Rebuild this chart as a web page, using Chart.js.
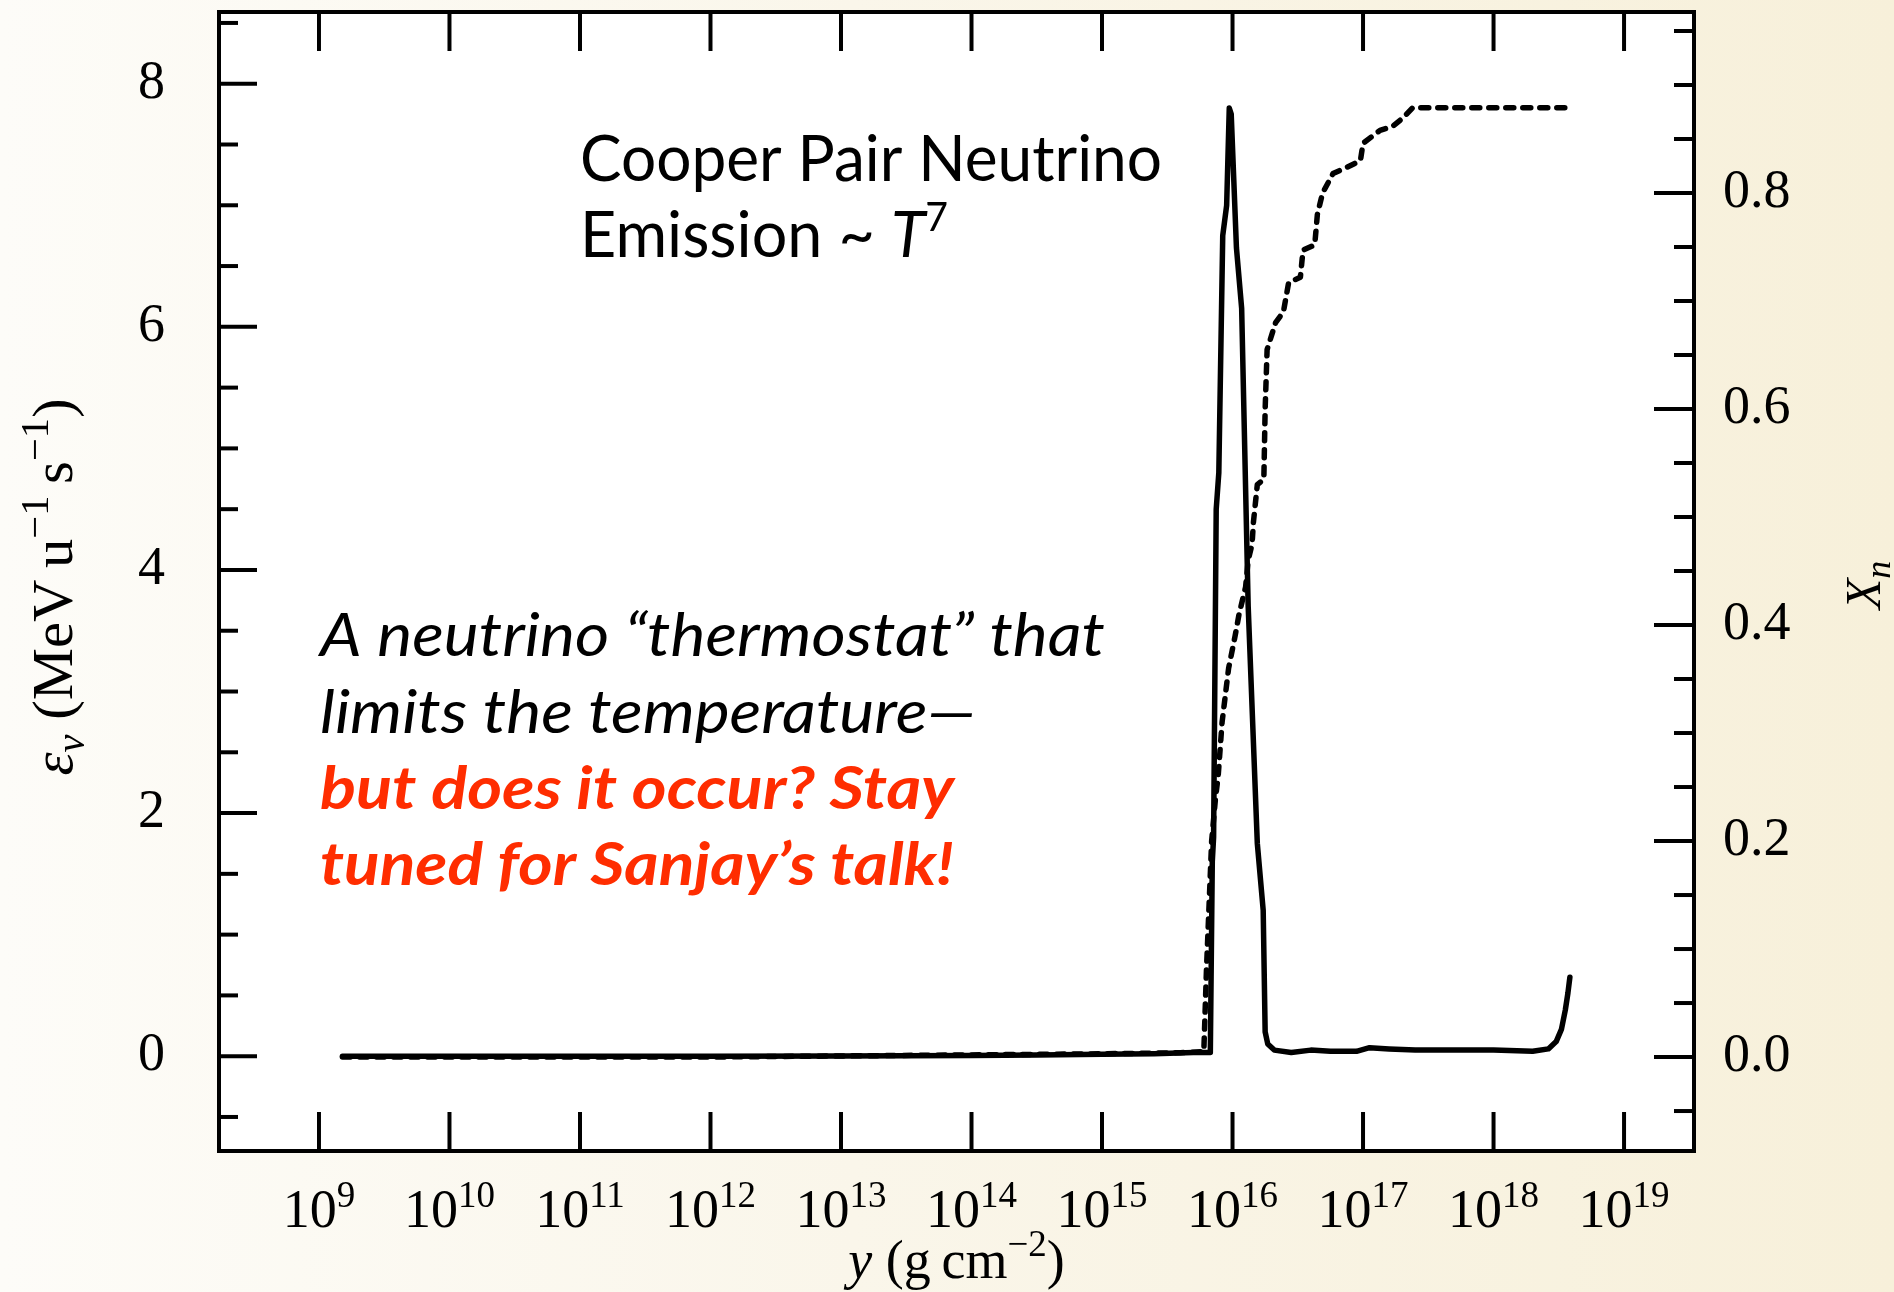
<!DOCTYPE html>
<html>
<head>
<meta charset="utf-8">
<script src="https://cdn.jsdelivr.net/npm/chart.js@4.4.0/dist/chart.umd.min.js"></script>
<style>
    html, body { margin: 0; padding: 0; }
    body {
        width: 1894px;
        height: 1292px;
        overflow: hidden;
        background: linear-gradient(to right, #fdfcf8 0%, #faf6ea 45%, #f7f0da 100%);
    }
</style>
</head>
<body>
<canvas id="graficoPrincipal" width="1894" height="1292"></canvas>
<script>
"use strict";

/* datos (x en log10 de y) */
const decadas = [9, 10, 11, 12, 13, 14, 15, 16, 17, 18, 19];

const emisLogY = [9.18, 10, 11, 12, 13, 14, 14.5, 15, 15.4, 15.7, 15.83, 15.845, 15.855, 15.875, 15.895,
    15.925, 15.955, 15.975, 15.99, 16.03, 16.07, 16.12, 16.19, 16.235, 16.25, 16.27, 16.32, 16.45, 16.6,
    16.75, 16.95, 17.05, 17.2, 17.4, 17.7, 18.0, 18.3, 18.42, 18.48, 18.52, 18.55, 18.57, 18.585];
const emisValor = [0, 0, 0, 0, 0.002, 0.005, 0.01, 0.015, 0.02, 0.03, 0.03, 1.6, 1.8, 4.5, 4.8,
    6.75, 7.0, 7.8, 7.75, 6.65, 6.15, 3.7, 1.75, 1.2, 0.2, 0.1, 0.05, 0.03, 0.05,
    0.04, 0.04, 0.07, 0.06, 0.05, 0.05, 0.05, 0.04, 0.06, 0.12, 0.22, 0.38, 0.52, 0.65];

const xnLogY = [9.18, 12, 13, 14, 15, 15.6, 15.78, 15.80, 15.84, 15.87, 15.89, 15.92, 15.97, 16.02,
    16.05, 16.10, 16.12, 16.15, 16.16, 16.19, 16.24, 16.25, 16.265, 16.33, 16.39, 16.43, 16.52, 16.54,
    16.63, 16.65, 16.69, 16.77, 16.88, 16.98, 17.0, 17.13, 17.23, 17.31, 17.38, 18.6];
const xnValor = [0, 0, 0.001, 0.002, 0.003, 0.004, 0.005, 0.08, 0.20, 0.24, 0.26, 0.31, 0.36, 0.39,
    0.41, 0.435, 0.46, 0.475, 0.495, 0.53, 0.535, 0.6, 0.655, 0.68, 0.69, 0.717, 0.722, 0.747,
    0.752, 0.78, 0.80, 0.818, 0.824, 0.83, 0.846, 0.858, 0.862, 0.87, 0.879, 0.879];

const etiquetasIzq = [0, 2, 4, 6, 8];
const etiquetasDer = [0.0, 0.2, 0.4, 0.6, 0.8];

const SERIF = "'Liberation Serif', 'Times New Roman', serif";
const SANS = "Lato, 'Open Sans', sans-serif";

function puntos(logs, valores) {
    return logs.map((l, i) => ({ x: Math.pow(10, l), y: valores[i] }));
}

function enLista(v, lista) {
    return lista.some(e => Math.abs(e - v) < 1e-6);
}

/* texto con varias fuentes; tramos = [texto, fuente, dy] */
function tramos(ctx, partes, x, y, alinear, ancho) {
    let total = 0;
    partes.forEach(p => { ctx.font = p[1]; total += ctx.measureText(p[0]).width; });
    const k = ancho ? ancho / total : 1;
    ctx.save();
    ctx.translate(x, y);
    ctx.scale(k, 1);
    ctx.textAlign = "left";
    ctx.textBaseline = "alphabetic";
    let cx = alinear === "center" ? -total / 2 : 0;
    partes.forEach(p => {
        ctx.font = p[1];
        ctx.fillText(p[0], cx, p[2] || 0);
        cx += ctx.measureText(p[0]).width;
    });
    ctx.restore();
}

function linea(ctx, x1, y1, x2, y2) {
    ctx.beginPath();
    ctx.moveTo(x1, y1);
    ctx.lineTo(x2, y2);
    ctx.stroke();
}

const marco = {
    id: "marco",
    beforeDraw(chart) {
        const { ctx, chartArea: a } = chart;
        ctx.save();
        ctx.fillStyle = "#ffffff";
        ctx.fillRect(a.left, a.top, a.right - a.left, a.bottom - a.top);
        ctx.restore();
    },
    afterDraw(chart) {
        const { ctx, chartArea: a, scales } = chart;
        ctx.save();
        ctx.strokeStyle = "#000";
        ctx.fillStyle = "#000";
        ctx.lineWidth = 4;

        scales.x.ticks.forEach(t => {
            const px = scales.x.getPixelForValue(t.value);
            linea(ctx, px, a.bottom, px, a.bottom - 39);
            linea(ctx, px, a.top, px, a.top + 39);
            const exp = Math.round(Math.log10(t.value));
            tramos(ctx, [["10", "54px " + SERIF, 0], [String(exp), "37px " + SERIF, -20]],
                px, 1227, "center");
        });

        scales.yIzq.ticks.forEach(t => {
            const py = scales.yIzq.getPixelForValue(t.value);
            linea(ctx, a.left, py, a.left + (enLista(t.value, etiquetasIzq) ? 38 : 19), py);
        });

        scales.yDer.ticks.forEach(t => {
            const py = scales.yDer.getPixelForValue(t.value);
            linea(ctx, a.right, py, a.right - (enLista(t.value, etiquetasDer) ? 40 : 20), py);
        });

        ctx.strokeRect(a.left, a.top, a.right - a.left, a.bottom - a.top);

        // titulo eje x
        tramos(ctx, [
            ["y", "italic 54px " + SERIF, 0],
            [" (g\u2009cm", "54px " + SERIF, 0],
            ["\u22122", "37px " + SERIF, -22],
            [")", "54px " + SERIF, 0]
        ], (a.left + a.right) / 2, 1278, "center");

        // titulo eje izquierdo
        ctx.save();
        ctx.translate(72, 587);
        ctx.rotate(-Math.PI / 2);
        tramos(ctx, [
            ["\u03b5", "italic 58px " + SERIF, 0],
            ["\u03bd", "italic 40px " + SERIF, 12],
            [" (MeV\u2009u", "58px " + SERIF, 0],
            ["\u22121", "40px " + SERIF, -24],
            ["\u2009s", "58px " + SERIF, 0],
            ["\u22121", "40px " + SERIF, -24],
            [")", "58px " + SERIF, 0]
        ], 0, 0, "center", 377);
        ctx.restore();

        // titulo eje derecho
        ctx.save();
        ctx.translate(1880, 585);
        ctx.rotate(-Math.PI / 2);
        tramos(ctx, [
            ["X", "italic 50px " + SERIF, 0],
            ["n", "italic 36px " + SERIF, 10]
        ], 0, 0, "center");
        ctx.restore();

        // anotaciones
        tramos(ctx, [["Cooper Pair Neutrino", "400 64px " + SANS, 0]], 580, 181, "left", 582);
        tramos(ctx, [
            ["Emission ~ ", "400 64px " + SANS, 0],
            ["T", "italic 400 64px " + SANS, 0],
            ["7", "400 40px " + SANS, -26]
        ], 580, 257, "left", 368);

        tramos(ctx, [["A neutrino \u201cthermostat\u201d that", "italic 400 60px " + SANS, 0]], 320, 656, "left", 785);
        tramos(ctx, [["limits the temperature\u2014", "italic 400 60px " + SANS, 0]], 320, 733, "left", 656);
        ctx.fillStyle = "#ff2d00";
        tramos(ctx, [["but does it occur? Stay", "italic 700 60px " + SANS, 0]], 320, 809, "left", 634);
        tramos(ctx, [["tuned for Sanjay\u2019s talk!", "italic 700 60px " + SANS, 0]], 320, 885, "left", 634);

        ctx.restore();
    }
};

const canvas = document.getElementById("graficoPrincipal");

new Chart(canvas, {
    type: "line",
    data: {
        datasets: [{
            label: "emision",
            data: puntos(emisLogY, emisValor),
            yAxisID: "yIzq",
            borderColor: "#000",
            borderWidth: 5.5,
            borderJoinStyle: "round",
            borderCapStyle: "round",
            pointRadius: 0,
            tension: 0,
            fill: false
        }, {
            label: "Xn",
            data: puntos(xnLogY, xnValor),
            yAxisID: "yDer",
            borderColor: "#000",
            borderWidth: 5.5,
            borderDash: [8, 9],
            borderCapStyle: "round",
            borderJoinStyle: "round",
            pointRadius: 0,
            tension: 0,
            fill: false
        }]
    },
    options: {
        responsive: false,
        animation: false,
        devicePixelRatio: 1,
        layout: { padding: { top: 12, left: 0, right: 0, bottom: 0 } },
        plugins: {
            legend: { display: false },
            tooltip: { enabled: false }
        },
        scales: {
            x: {
                type: "logarithmic",
                min: Math.pow(10, 8.234),
                max: Math.pow(10, 19.536),
                grid: { display: false, drawTicks: false },
                border: { display: false },
                ticks: { display: false },
                afterBuildTicks: s => { s.ticks = decadas.map(d => ({ value: Math.pow(10, d) })); },
                afterFit: s => { s.height = 141; s.paddingLeft = 0; s.paddingRight = 0; }
            },
            yIzq: {
                type: "linear",
                axis: "y",
                position: "left",
                min: -0.78,
                max: 8.59,
                grid: { display: false, drawTicks: false },
                border: { display: false },
                ticks: {
                    stepSize: 0.5,
                    includeBounds: false,
                    autoSkip: false,
                    padding: 54,
                    color: "#000",
                    font: { family: SERIF, size: 54, lineHeight: 0.4 },
                    callback: v => enLista(v, etiquetasIzq) ? String(Math.round(v)) : ""
                },
                afterFit: s => { s.width = 219; s.paddingTop = 0; s.paddingBottom = 0; }
            },
            yDer: {
                type: "linear",
                axis: "y",
                position: "right",
                min: -0.087,
                max: 0.9676,
                grid: { display: false, drawTicks: false },
                border: { display: false },
                ticks: {
                    stepSize: 0.05,
                    includeBounds: false,
                    autoSkip: false,
                    padding: 29,
                    color: "#000",
                    font: { family: SERIF, size: 54, lineHeight: 0.4 },
                    callback: v => enLista(v, etiquetasDer) ? v.toFixed(1) : ""
                },
                afterFit: s => { s.width = 200; s.paddingTop = 0; s.paddingBottom = 0; }
            }
        }
    },
    plugins: [marco]
});
</script>
</body>
</html>
